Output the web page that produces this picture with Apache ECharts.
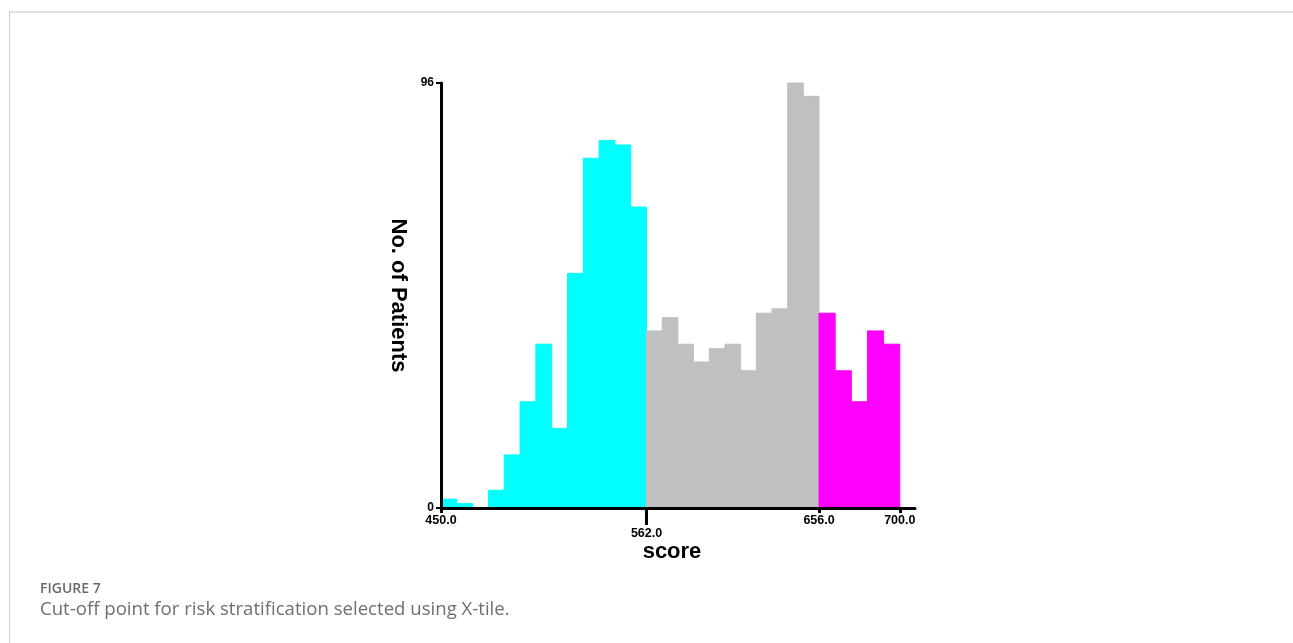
<!DOCTYPE html>
<html>
<head>
<meta charset="utf-8">
<script src="https://cdn.jsdelivr.net/npm/echarts@6/dist/echarts.min.js"></script>
<style>
html,body{margin:0;padding:0;background:#fff;}
#chart{width:1293px;height:643px;}
</style>
</head>
<body>
<div id="chart"></div>
<script>
// ---- data ----
var cutPoints = [450, 562, 656, 700];              // X-tile cut points (group edges)
var lowCounts = [2, 1, 0, 4, 12, 24, 37, 18, 53, 79, 83, 82, 68];      // 450–562 (cyan)
var midCounts = [40, 43, 37, 33, 36, 37, 31, 44, 45, 96, 93];          // 562–656 (grey)
var highCounts = [44, 31, 24, 40, 37];                                 // 656–700 (magenta)
var xTickValues = [450, 562, 656, 700];
var xLoweredTick = 562;
var yMin = 0, yMax = 96;
var yTitle = 'No. of Patients';
var xTitle = 'score';
var captionHead = 'FIGURE 7';
var captionText = 'Cut-off point for risk stratification selected using X-tile.';

function toBins(counts, lo, hi) {
  var w = (hi - lo) / counts.length;
  return counts.map(function (c, i) { return [lo + i * w, lo + (i + 1) * w, c]; });
}
var lowBins = toBins(lowCounts, cutPoints[0], cutPoints[1]);
var midBins = toBins(midCounts, cutPoints[1], cutPoints[2]);
var highBins = toBins(highCounts, cutPoints[2], cutPoints[3]);

function renderBin(params, api) {
  var p0 = api.coord([api.value(0), api.value(2)]);
  var p1 = api.coord([api.value(1), 0]);
  var c = api.visual('color');
  return {
    type: 'rect',
    shape: { x: p0[0], y: p0[1], width: p1[0] - p0[0], height: p1[1] - p0[1] },
    style: { fill: c, stroke: c, lineWidth: 1 }
  };
}
function binSeries(data, color) {
  return {
    type: 'custom',
    renderItem: renderBin,
    encode: { x: [0, 1], y: 2 },
    itemStyle: { color: color },
    data: data,
    z: 1,
    silent: true
  };
}

var chart = echarts.init(document.getElementById('chart'), null, { renderer: 'canvas' });
var fontAxis = 'Liberation Sans, Arial, sans-serif';
chart.setOption({
  animation: false,
  backgroundColor: '#fff',
  grid: { left: 441, right: 378, top: 83, bottom: 135 },
  xAxis: [{
    type: 'value',
    min: 450, max: 708.3,
    z: 10,
    splitLine: { show: false },
    axisLine: { show: true, onZero: false, lineStyle: { color: '#000', width: 3 } },
    axisTick: { show: true, customValues: [450, 656, 700], length: 5, lineStyle: { color: '#000', width: 3 } },
    axisLabel: {
      show: true,
      customValues: xTickValues,
      margin: 6,
      color: '#000',
      fontFamily: fontAxis,
      fontWeight: 'bold',
      fontSize: 12.5,
      formatter: function (v) {
        var s = Number(v).toFixed(1);
        return v === xLoweredTick ? '{low|' + s + '}' : s;
      },
      rich: { low: { padding: [13, 0, 0, 0], color: '#000', fontFamily: fontAxis, fontWeight: 'bold', fontSize: 12.5 } }
    },
    name: xTitle,
    nameLocation: 'middle',
    nameGap: 33,
    nameMoveOverlap: false,
    nameTextStyle: { color: '#000', fontFamily: fontAxis, fontWeight: 'bold', fontSize: 22, padding: [0, 12, 0, 0] }
  }, {
    type: 'value',
    min: 450, max: 708.3,
    position: 'bottom',
    z: 10,
    splitLine: { show: false },
    axisLine: { show: false },
    axisTick: { show: true, customValues: [xLoweredTick], length: 17, lineStyle: { color: '#000', width: 3 } },
    axisLabel: { show: false }
  }],
  yAxis: {
    type: 'value',
    min: yMin, max: yMax, interval: 96,
    z: 10,
    splitLine: { show: false },
    axisLine: { show: true, lineStyle: { color: '#000', width: 3 } },
    axisTick: { show: true, length: 5, lineStyle: { color: '#000', width: 2 } },
    axisLabel: { margin: 7, color: '#000', fontFamily: fontAxis, fontWeight: 'bold', fontSize: 12 },
    name: yTitle,
    nameLocation: 'middle',
    nameRotate: -90,
    nameGap: 32,
    nameMoveOverlap: false,
    nameTextStyle: { color: '#000', fontFamily: fontAxis, fontWeight: 'bold', fontSize: 22 }
  },
  series: [
    binSeries(lowBins, '#00FFFF'),
    binSeries(midBins, '#C0C0C0'),
    binSeries(highBins, '#FF00FF')
  ],
  graphic: [
    { type: 'rect', shape: { x: 9, y: 11, width: 1284, height: 2 }, style: { fill: '#e2e2e2' }, silent: true },
    { type: 'rect', shape: { x: 9, y: 11, width: 1, height: 632 }, style: { fill: '#cfcfcf' }, silent: true },
    { type: 'text', left: 40, top: 582, style: { text: captionHead, fill: '#6a6a6a', font: '600 14px "Open Sans", sans-serif' }, silent: true },
    { type: 'text', left: 40, top: 600, style: { text: captionText, fill: '#6f6f6f', font: '18.6px "Open Sans", sans-serif' }, silent: true }
  ]
});
</script>
</body>
</html>
